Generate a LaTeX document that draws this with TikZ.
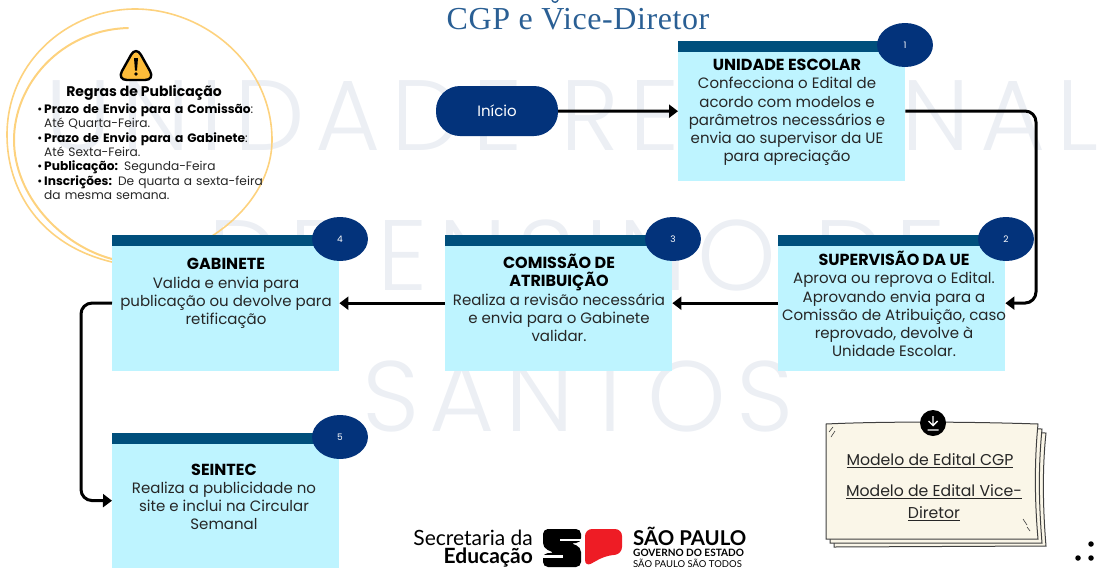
\documentclass[tikz,border=0pt]{standalone}
\usepackage{fontspec}
\usetikzlibrary{arrows.meta}
\setmainfont{Poppins}
\newfontfamily\wmfont[LetterSpace=10.5]{Poppins Light}
\newfontfamily\titlefont[LetterSpace=1.8]{Liberation Serif}
\newfontfamily\logofont{Lato}
\definecolor{boxfill}{HTML}{BEF4FF}
\definecolor{barfill}{HTML}{004F7C}
\definecolor{navy}{HTML}{03337B}
\definecolor{wmcol}{HTML}{ECEFF4}
\definecolor{ringcol}{HTML}{FDD27E}
\definecolor{papercol}{HTML}{FAF6E8}
\definecolor{titlecol}{HTML}{2A5F94}
\definecolor{warncol}{HTML}{FDBC3A}
\definecolor{redlogo}{HTML}{EE1C25}
\tikzset{
  flowbox/.style={fill=boxfill,minimum width=227pt,inner sep=0pt,anchor=north west},
  barbox/.style={fill=barfill,minimum width=227pt,minimum height=10.5pt,inner sep=0pt,anchor=north west},
  numdot/.style={ellipse shape,fill=navy,text=white,font=\fontsize{9}{9}\selectfont},
  ellipse shape/.style={circle,minimum size=44pt,inner sep=0pt,xscale=1.27},
  boxtext/.style={align=center,inner sep=0pt,font=\fontsize{15}{18.2}\selectfont,text=black!85},
  flow/.style={line width=3pt,rounded corners=11pt,-{Triangle[length=9pt,width=13pt]}},
  wmark/.style={text=wmcol,inner sep=0pt,font=\fontsize{100}{100}\wmfont},
  linktext/.style={inner sep=0pt,font=\fontsize{15.7}{15.7}\selectfont,text=black!85},
  ringline/.style={draw=ringcol,line cap=round},
  sheet/.style={draw=black!75,line width=1pt,fill=papercol},
  logodot/.style={circle,fill=black,minimum size=5.5pt,inner sep=0pt}
}
\newcommand{\boxhead}[1]{{\bfseries\fontsize{16}{18.2}\selectfont\textcolor{black}{#1}}\\}
\begin{document}
\begin{tikzpicture}[x=1pt,y=-1pt]
\useasboundingbox (0,0) rectangle (1102,568);
% watermark
\node[wmark] (wm1) at (572,115) {UNIDADE REGIONAL};
\node[wmark] (wm2) at (577,255) {DE ENSINO DE};
\node[wmark] (wm3) at (578,396) {SANTOS};
% title
\node[inner sep=0pt,text=titlecol,font=\fontsize{32}{32}\titlefont] (title) at (578,19) {CGP e Vice-Diretor};
\draw[titlecol,line width=1.4pt] (552,0) .. controls (553,3) and (557,3) .. (558,0);
% hand drawn ring
\draw[ringline,line width=1.6pt] (112,262) .. controls (40,245) and (7,190) .. (7,135)
  .. controls (7,60) and (70,9) .. (135,9) .. controls (205,9) and (272,65) .. (272,140)
  .. controls (272,180) and (245,215) .. (212,236);
\draw[ringline,line width=2pt] (128,28) .. controls (60,30) and (14,85) .. (14,140)
  .. controls (14,195) and (60,245) .. (112,259);
% warning icon
\draw[line width=2.4pt,fill=warncol,rounded corners=10pt] (136,46) -- (155,80) -- (117,80) -- cycle;
\fill[black] (134,58) -- (138,58) -- (137,70.5) -- (135,70.5) -- cycle;
\fill[black] (136,74) circle (1.9);
% rules
\node[inner sep=0pt,font=\bfseries\fontsize{14}{15}\selectfont] (rtitle) at (144,93) {Regras de Publicação};
\node[anchor=north west,inner sep=0pt,text width=240pt,font=\fontsize{12.2}{14.45}\selectfont,text=black!85] (rules) at (33,98.5) {%
\begin{list}{\textcolor{black}{\large\textbullet}}{\setlength{\leftmargin}{11pt}\setlength{\labelwidth}{9pt}\setlength{\labelsep}{2pt}\setlength{\itemsep}{0pt}\setlength{\parsep}{0pt}\setlength{\topsep}{0pt}\setlength{\partopsep}{0pt}\setlength{\itemindent}{0pt}}\raggedright
\item {\bfseries\textcolor{black}{Prazo de Envio para a Comissão}}:\\ Até Quarta-Feira.
\item {\bfseries\textcolor{black}{Prazo de Envio para a Gabinete}}:\\ Até Sexta-Feira.
\item {\bfseries\textcolor{black}{Publicação:}} Segunda-Feira
\item {\bfseries\textcolor{black}{Inscrições:}} De quarta a sexta-feira\\ da mesma semana.
\end{list}};
% start
\node[fill=navy,text=white,rounded corners=24pt,minimum width=122pt,minimum height=50pt,inner sep=0pt,font=\fontsize{15}{15}\selectfont] (start) at (497,111) {Início};
% boxes
\node[flowbox,minimum height=140pt] (b1) at (678,41) {};
\node[barbox] (bar1) at (678,41) {};
\node[numdot] (n1) at (905,45) {\scalebox{0.787}[1]{1}};
\node[boxtext] (t1) at (787,112.5) {\boxhead{UNIDADE ESCOLAR}Confecciona o Edital de\\acordo com modelos e\\parâmetros necessários e\\envia ao supervisor da UE\\para apreciação};
\node[flowbox,minimum height=136pt] (b2) at (778,235) {};
\node[barbox] (bar2) at (778,235) {};
\node[numdot] (n2) at (1006,239) {\scalebox{0.787}[1]{2}};
\node[boxtext] (t2) at (894,304) {\boxhead{SUPERVISÃO DA UE}Aprova ou reprova o Edital.\\Aprovando envia para a\\Comissão de Atribuição, caso\\reprovado, devolve à\\Unidade Escolar.};
\node[flowbox,minimum height=136pt] (b3) at (445,235) {};
\node[barbox] (bar3) at (445,235) {};
\node[numdot] (n3) at (673,239) {\scalebox{0.787}[1]{3}};
\node[boxtext] (t3) at (559,298) {\boxhead{COMISSÃO DE}\boxhead{ATRIBUIÇÃO}Realiza a revisão necessária\\e envia para o Gabinete\\validar.};
\node[flowbox,minimum height=136pt] (b4) at (112,235) {};
\node[barbox] (bar4) at (112,235) {};
\node[numdot] (n4) at (340,239) {\scalebox{0.787}[1]{4}};
\node[boxtext] (t4) at (226,293.5) {\boxhead{GABINETE}Valida e envia para\\publicação ou devolve para\\retificação};
\node[flowbox,minimum height=135pt] (b5) at (112,433) {};
\node[barbox] (bar5) at (112,433) {};
\node[numdot] (n5) at (340,437) {\scalebox{0.787}[1]{5}};
\node[boxtext] (t5) at (224,497) {\boxhead{SEINTEC}Realiza a publicidade no\\site e inclui na Circular\\Semanal};
% connectors
\coordinate (c12a) at (1036,111);
\coordinate (c12b) at (1036,303);
\coordinate (c45a) at (81,303);
\coordinate (c45b) at (81,500.5);
\draw[flow] (start.east) -- (b1.west);
\draw[flow] (b1.east) -- (c12a) -- (c12b) -- (b2.east);
\draw[flow] (b2.west) -- (b3.east);
\draw[flow] (b3.west) -- (b4.east);
\draw[flow] (b4.west) -- (c45a) -- (c45b) -- (b5.west);
% paper stack
\draw[sheet] (834,431) -- (1046,433) .. controls (1042,470) and (1043,510) .. (1046,546) -- (834,547) -- cycle;
\draw[sheet] (830,427) -- (1042,429) .. controls (1038,470) and (1039,505) .. (1042,543) -- (830,543) -- cycle;
\draw[sheet] (826,424) .. controls (890,421) and (980,422) .. (1038,424) .. controls (1034,465) and (1035,505) .. (1038,539) -- (826,539) -- cycle;
\draw[black!75,line width=.6pt] (829,432) -- (833,427) (831,437) -- (835,431) (1023,519) -- (1027,525) (1027,527) -- (1030,531);
\node[circle,fill=black,minimum size=26pt,inner sep=0pt] (dl) at (933,423) {};
\draw[white,line width=1.4pt] (933,416) -- (933,425) (928.5,421) -- (933,425.5) -- (937.5,421) (927.5,430) -- (938.5,430);
\node[linktext] (l1) at (930,461) {\underline{Modelo de Edital CGP}};
\node[linktext] (l2) at (934,492) {\underline{Modelo de Edital Vice-}};
\node[linktext] (l3) at (934,514) {\underline{Diretor}};
% logo
\node[anchor=base east,inner sep=0pt,font=\fontsize{21}{22}\logofont] (sec) at (533,545) {Secretaria da};
\node[anchor=base east,inner sep=0pt,font=\bfseries\fontsize{21}{22}\logofont] (edu) at (533,563) {Educação};
\fill[black,rounded corners=5pt] (552,529) -- (581,529) -- (581,543) -- (570,543) -- (581,547) -- (581,567) -- (543,567) -- (543,553) -- (555,553) -- (543,548) -- (543,529) -- cycle;
\fill[white] (560,538.5) rectangle (581,541);
\fill[white] (543,555) rectangle (563,557.5);
\fill[redlogo,rounded corners=7pt] (585,529) -- (622,529) -- (622,554) -- (605,556) -- (585,567) -- cycle;
\node[anchor=base west,inner sep=0pt,font=\bfseries\fontsize{20.4}{21}\logofont] (sp) at (633,545) {SÃO PAULO};
\node[anchor=base west,inner sep=0pt,font=\bfseries\fontsize{10.1}{11}\logofont] (gov) at (633,556) {GOVERNO DO ESTADO};
\node[anchor=base west,inner sep=0pt,font=\fontsize{9.5}{10}\logofont] (spt) at (633,567) {SÃO PAULO SÃO TODOS};
% dots
\node[logodot] (d1) at (1091,544) {};
\node[logodot] (d2) at (1091,558) {};
\node[logodot] (d3) at (1078,558) {};
\end{tikzpicture}
\end{document}
